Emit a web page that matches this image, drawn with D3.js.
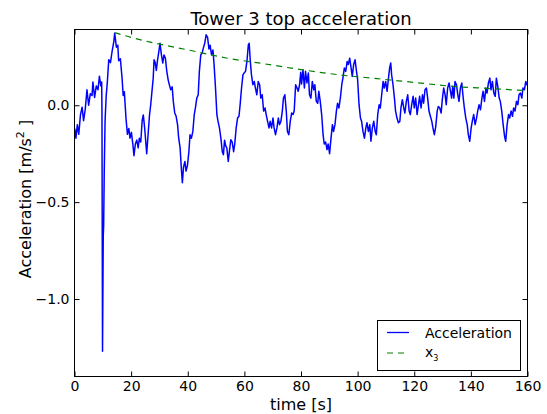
<!DOCTYPE html>
<html>
<head>
<meta charset="utf-8">
<script src="https://cdn.jsdelivr.net/npm/d3@7"></script>
<style>
  html, body { margin: 0; padding: 0; background: #fff; }
  svg { display: block; font-family: "DejaVu Sans", sans-serif; }
</style>
</head>
<body>
<svg id="chart" width="547" height="414"></svg>
<script>
// Measured tower-top acceleration [m/s^2] against time [s]
const timeS = [
  0.1, 0.5, 1.0, 1.5, 2.1, 2.7, 3.2, 3.8, 4.4, 5.0, 5.6, 6.2, 6.5, 7.1, 7.7, 8.3, 8.8, 9.3, 9.6, 9.7,
  9.9, 10.15, 10.3, 10.5, 10.8, 11.2, 11.6, 12.1, 12.7, 13.3, 13.9, 14.2, 14.8, 15.3, 15.6, 16.2, 16.8, 17.2, 17.6, 18.2,
  18.7, 19.2, 19.6, 20.1, 20.6, 21.0, 21.5, 22.0, 22.5, 22.9, 23.4, 23.9, 24.3, 24.8, 25.5, 26.0, 26.5, 26.9, 27.8, 28.1,
  28.5, 28.9, 29.3, 29.8, 30.2, 30.7, 31.2, 31.6, 32.1, 32.6, 33.1, 33.5, 34.0, 34.5, 34.9, 35.4, 35.9, 36.4, 36.8, 37.3,
  37.8, 38.1, 38.5, 39.0, 39.4, 39.9, 40.4, 40.8, 41.3, 41.8, 42.3, 42.7, 43.2, 43.7, 44.1, 44.6, 45.1, 45.5, 46.0, 46.5,
  47.0, 47.5, 47.9, 48.4, 48.9, 49.3, 49.8, 50.3, 50.7, 51.2, 51.7, 52.2, 52.6, 53.0, 53.4, 53.8, 54.3, 54.7, 55.2, 55.7,
  56.2, 56.6, 57.1, 57.6, 58.1, 58.5, 59.0, 59.5, 59.9, 60.4, 60.9, 61.4, 61.7, 62.1, 62.5, 63.0, 63.5, 63.9, 64.4, 64.9,
  65.4, 65.8, 66.3, 66.8, 67.3, 67.7, 68.2, 68.7, 69.1, 69.6, 70.1, 70.5, 71.0, 71.5, 72.0, 72.4, 72.9, 73.4, 73.8, 74.3,
  74.8, 75.2, 75.7, 76.2, 76.7, 77.2, 77.6, 78.1, 78.6, 79.0, 79.5, 79.9, 80.2, 80.7, 81.2, 81.6, 82.1, 82.6, 83.0, 83.5,
  84.0, 84.5, 84.9, 85.4, 85.9, 86.3, 86.8, 87.3, 87.8, 88.2, 88.7, 89.2, 89.6, 90.1, 90.6, 91.1, 91.5, 92.0, 92.5, 92.9,
  93.4, 93.9, 94.4, 94.8, 95.3, 95.8, 96.3, 96.7, 97.2, 97.7, 98.1, 98.6, 99.1, 99.6, 100.0, 100.5, 101.0, 101.4, 101.9, 102.4,
  102.9, 103.3, 103.8, 104.3, 104.7, 105.2, 105.7, 106.2, 106.6, 107.1, 107.6, 108.0, 108.5, 109.0, 109.4, 109.9, 110.4, 110.9, 111.3, 111.7,
  112.0, 112.5, 113.0, 113.4, 113.9, 114.4, 114.9, 115.3, 115.8, 116.3, 116.7, 117.2, 117.7, 118.2, 118.6, 119.1, 119.6, 120.0, 120.5, 121.0,
  121.5, 121.9, 122.4, 122.9, 123.3, 123.8, 124.3, 124.8, 125.2, 125.7, 126.2, 126.6, 127.1, 127.6, 128.1, 128.5, 129.0, 129.5, 129.9, 130.4,
  130.9, 131.3, 131.8, 132.3, 132.8, 133.2, 133.6, 134.0, 134.4, 134.9, 135.4, 135.8, 136.3, 136.8, 137.3, 137.7, 138.2, 138.7, 139.1, 139.6,
  140.1, 140.6, 141.0, 141.5, 142.0, 142.4, 142.9, 143.4, 143.9, 144.3, 144.8, 145.3, 145.7, 146.2, 146.7, 147.1, 147.6, 148.1, 148.6, 149.0,
  149.5, 150.0, 150.4, 150.9, 151.4, 151.9, 152.3, 152.8, 153.3, 153.7, 154.2, 154.7, 155.1, 155.6, 156.1, 156.6, 157.0, 157.5, 158.0, 158.4,
  158.9, 159.4, 159.8, 160.0
];
const accel = [
  -0.12, -0.17, -0.10, -0.15, -0.05, -0.01, -0.08, -0.02, 0.08, 0.00, 0.06, 0.05, 0.12, 0.04, 0.10, 0.08, 0.15, 0.10, 0.12, -0.03,
  -1.27, -0.68, -0.62, -0.35, -0.08, 0.05, 0.12, 0.235, 0.22, 0.28, 0.33, 0.372, 0.30, 0.31, 0.23, 0.24, 0.14, 0.05, 0.07, -0.07,
  -0.15, -0.12, -0.17, -0.14, -0.20, -0.26, -0.20, -0.18, -0.22, -0.17, -0.19, -0.08, -0.05, -0.12, -0.25, -0.15, -0.05, 0.00, 0.14, 0.235,
  0.22, 0.18, 0.23, 0.278, 0.32, 0.26, 0.218, 0.26, 0.243, 0.175, 0.13, 0.106, 0.08, 0.095, 0.02, -0.04, -0.057, -0.10, -0.17, -0.22,
  -0.34, -0.40, -0.32, -0.29, -0.34, -0.31, -0.24, -0.152, -0.17, -0.135, -0.048, -0.014, 0.037, 0.054, 0.175, 0.26, 0.27, 0.295, 0.32, 0.364,
  0.35, 0.29, 0.31, 0.26, 0.285, 0.21, 0.09, -0.05, -0.083, -0.117, -0.17, -0.24, -0.255, -0.18, -0.21, -0.22, -0.29, -0.24, -0.178, -0.19,
  -0.24, -0.20, -0.117, -0.066, -0.057, 0.003, 0.089, 0.158, 0.166, 0.175, 0.226, 0.312, 0.32, 0.226, 0.158, 0.106, 0.123, 0.089, 0.054, 0.123,
  0.106, 0.037, 0.054, -0.03, -0.014, -0.048, -0.083, -0.117, -0.083, -0.117, -0.066, -0.117, -0.152, -0.117, -0.066, -0.10, -0.083, -0.03, 0.037, 0.054,
  -0.03, -0.135, -0.152, -0.083, -0.04, -0.048, -0.03, 0.106, 0.089, 0.072, 0.106, 0.17, 0.11, 0.183, 0.089, 0.175, 0.115, 0.166, 0.054, 0.037,
  0.123, 0.08, 0.106, 0.02, 0.01, 0.072, 0.02, -0.048, -0.152, -0.20, -0.19, -0.229, -0.20, -0.25, -0.17, -0.10, -0.135, -0.10, -0.03, 0.01,
  -0.014, 0.037, 0.106, 0.14, 0.192, 0.175, 0.226, 0.21, 0.243, 0.192, 0.149, 0.21, 0.235, 0.175, 0.132, 0.003, -0.066, -0.083, -0.135, -0.17,
  -0.117, -0.09, -0.135, -0.10, -0.186, -0.117, -0.083, -0.135, -0.152, -0.048, 0.003, -0.014, 0.054, 0.123, 0.089, 0.123, 0.072, 0.14, 0.192, 0.218,
  0.158, 0.106, 0.037, -0.03, -0.066, -0.09, -0.083, -0.014, 0.029, -0.014, -0.04, 0.02, 0.054, -0.03, -0.048, 0.003, 0.046, -0.014, 0.037, -0.048,
  0.003, 0.046, -0.014, 0.054, 0.011, 0.08, 0.089, 0.029, -0.03, -0.057, -0.083, -0.117, -0.152, -0.109, -0.03, -0.006, -0.014, -0.04, 0.029, 0.089,
  0.054, 0.003, 0.089, 0.115, 0.072, 0.037, 0.097, 0.037, 0.123, 0.106, 0.054, 0.02, 0.089, 0.115, 0.037, -0.014, -0.066, -0.10, -0.152, -0.186,
  -0.117, -0.074, -0.048, -0.10, -0.066, -0.03, 0.003, -0.023, 0.037, 0.072, 0.02, 0.089, 0.063, 0.115, 0.14, 0.08, 0.123, 0.063, 0.046, 0.14,
  0.097, 0.037, 0.02, -0.03, -0.10, -0.16, -0.186, -0.10, -0.048, -0.066, -0.03, -0.057, -0.014, -0.03, 0.02, 0.003, 0.054, 0.063, 0.037, 0.089,
  0.08, 0.123, 0.106, 0.11
];

// Peak envelope x3 (dashed)
const x3Time  = [14.2, 20.0, 26.7, 40.0, 53.6, 67.0, 80.4, 93.0, 107.0, 120.0, 134.0, 147.0, 160.0];
const x3Value = [0.375, 0.350, 0.326, 0.286, 0.244, 0.214, 0.183, 0.158, 0.137, 0.118, 0.097, 0.086, 0.075];

const xTicks = [0, 20, 40, 60, 80, 100, 120, 140, 160];
const yTicks = [-1.0, -0.5, 0.0];

const titleText = "Tower 3 top acceleration";
const xLabelText = "time [s]";
const legendNames = ["Acceleration", "x"];

const svg = d3.select("#chart");
const L = 74.5, R = 527.5, T = 29.5, B = 376.5;

const x = d3.scaleLinear().domain([0, 160]).range([L, R]);
const y = d3.scaleLinear().domain([-1.4, 0.391]).range([B, T]);

const fmtY = d3.format(".1f");

// plot area clip
svg.append("clipPath").attr("id", "clip")
  .append("rect").attr("x", L).attr("y", T).attr("width", R - L).attr("height", B - T);

const accelData = timeS.map((t, i) => [t, accel[i]]);
const x3Data = x3Time.map((t, i) => [t, x3Value[i]]);

const plot = svg.append("g").attr("clip-path", "url(#clip)");

plot.append("path")
  .datum(accelData)
  .attr("fill", "none")
  .attr("stroke", "#0000ff")
  .attr("stroke-width", 1.5)
  .attr("stroke-linejoin", "round")
  .attr("d", d3.line().x(d => x(d[0])).y(d => y(d[1])));

plot.append("path")
  .datum(x3Data)
  .attr("fill", "none")
  .attr("stroke", "#008000")
  .attr("stroke-width", 1.2)
  .attr("stroke-dasharray", "6,5")
  .attr("d", d3.line().curve(d3.curveMonotoneX).x(d => x(d[0])).y(d => y(d[1])));

// axes with inward ticks on all four sides
function styleAxis(g) {
  g.select(".domain").remove();
  g.selectAll(".tick line").attr("stroke", "#000").attr("stroke-width", 1);
  g.selectAll(".tick text").attr("fill", "#000").attr("font-size", 14)
    .attr("font-family", "DejaVu Sans, sans-serif");
}

svg.append("g").attr("transform", `translate(0,${B})`)
  .call(d3.axisBottom(x).tickValues(xTicks).tickFormat(d3.format("d")).tickSizeInner(-5).tickSizeOuter(0).tickPadding(6))
  .call(styleAxis)
  .call(g => g.selectAll(".tick text").attr("dy", "0.71em").attr("y", 5));

svg.append("g").attr("transform", `translate(0,${T})`)
  .call(d3.axisTop(x).tickValues(xTicks).tickFormat("").tickSizeInner(-5).tickSizeOuter(0))
  .call(styleAxis);

svg.append("g").attr("transform", `translate(${L},0)`)
  .call(d3.axisLeft(y).tickValues(yTicks).tickFormat(fmtY).tickSizeInner(-5).tickSizeOuter(0).tickPadding(6))
  .call(styleAxis)
  .call(g => g.selectAll(".tick text").attr("x", -5));

svg.append("g").attr("transform", `translate(${R},0)`)
  .call(d3.axisRight(y).tickValues(yTicks).tickFormat("").tickSizeInner(-5).tickSizeOuter(0))
  .call(styleAxis);

// frame
svg.append("rect")
  .attr("x", L).attr("y", T).attr("width", R - L).attr("height", B - T)
  .attr("fill", "none").attr("stroke", "#000").attr("stroke-width", 1);

// title and axis labels
svg.append("text")
  .attr("x", (L + R) / 2).attr("y", 25)
  .attr("text-anchor", "middle").attr("font-size", 18).attr("fill", "#000")
  .text(titleText);

svg.append("text")
  .attr("x", (L + R) / 2).attr("y", 410)
  .attr("text-anchor", "middle").attr("font-size", 16).attr("fill", "#000")
  .text(xLabelText);

const yl = svg.append("text")
  .attr("transform", "translate(31,199) rotate(-90)")
  .attr("text-anchor", "middle").attr("font-size", 16).attr("fill", "#000");
yl.append("tspan").text("Acceleration [m/s");
yl.append("tspan").attr("font-size", 11).attr("dy", -7).text("2");
yl.append("tspan").attr("dy", 7).text(" ]");

// legend
const lg = svg.append("g");
lg.append("rect")
  .attr("x", 377.5).attr("y", 320.5).attr("width", 143).attr("height", 50)
  .attr("fill", "#fff").attr("stroke", "#000").attr("stroke-width", 1);
lg.append("line")
  .attr("x1", 387).attr("x2", 409).attr("y1", 332.5).attr("y2", 332.5)
  .attr("stroke", "#0000ff").attr("stroke-width", 1.3);
lg.append("text").attr("x", 425).attr("y", 337.5).attr("font-size", 14).attr("fill", "#000")
  .text(legendNames[0]);
lg.append("line")
  .attr("x1", 387).attr("x2", 409).attr("y1", 353).attr("y2", 353)
  .attr("stroke", "#008000").attr("stroke-width", 1.2).attr("stroke-dasharray", "6,5");
const lx = lg.append("text").attr("x", 425).attr("y", 357).attr("font-size", 14).attr("fill", "#000");
lx.append("tspan").text(legendNames[1]);
lx.append("tspan").attr("font-size", 8).attr("dy", 4).text("3");
</script>
</body>
</html>
